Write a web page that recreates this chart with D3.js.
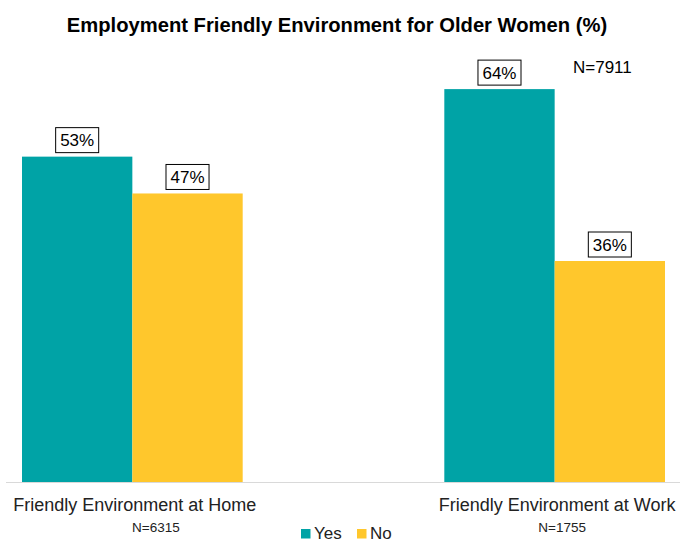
<!DOCTYPE html>
<html>
<head>
<meta charset="utf-8">
<script src="https://cdn.jsdelivr.net/npm/d3@7"></script>
<style>
  html, body { margin: 0; padding: 0; background: #fff; }
  svg { display: block; font-family: "Liberation Sans", Arial, sans-serif; }
</style>
</head>
<body>
<svg id="chart" width="680" height="542"></svg>
<script>
// Chart data
const categories = ["Friendly Environment at Home", "Friendly Environment at Work"];
const categoryN = ["N=6315", "N=1755"];
const seriesNames = ["Yes", "No"];
const yesValues = [53, 64];
const noValues = [47, 36];
const totalN = "N=7911";
const title = "Employment Friendly Environment for Older Women (%)";

const colors = { Yes: "#00A3A6", No: "#FFC72C" };

const svg = d3.select("#chart");
const W = 680, H = 542;
const baseY = 482, topY = 40;

const x = d3.scaleBand().domain(categories).range([22, 665])
  .paddingInner(201 / 421).paddingOuter(0);
const xInner = d3.scaleBand().domain(seriesNames).range([0, x.bandwidth()]).padding(0);
const y = d3.scaleLinear().domain([0, 72]).range([baseY, topY]);

const rows = categories.map((c, i) => ({
  category: c,
  values: [
    { series: "Yes", value: yesValues[i] },
    { series: "No", value: noValues[i] }
  ]
}));

// Title
svg.append("text")
  .attr("x", 337).attr("y", 32)
  .attr("text-anchor", "middle")
  .attr("font-size", 20.2).attr("font-weight", "bold")
  .attr("fill", "#000")
  .text(title);

// Bars
const groups = svg.selectAll("g.cat").data(rows).join("g")
  .attr("class", "cat")
  .attr("transform", d => `translate(${x(d.category)},0)`);

groups.selectAll("rect.bar").data(d => d.values).join("rect")
  .attr("class", "bar")
  .attr("x", d => xInner(d.series))
  .attr("y", d => y(d.value))
  .attr("width", xInner.bandwidth())
  .attr("height", d => y(0) - y(d.value))
  .attr("fill", d => colors[d.series]);

// Value labels in boxes
groups.selectAll("g.lbl").data(d => d.values).join("g")
  .attr("class", "lbl")
  .each(function(d) {
    const g = d3.select(this);
    const cx = xInner(d.series) + xInner.bandwidth() / 2;
    const bottom = y(d.value) - 4;
    const h = 25;
    const rect = g.append("rect");
    const t = g.append("text")
      .attr("x", cx).attr("y", bottom - 6.5)
      .attr("text-anchor", "middle")
      .attr("font-size", 17).attr("fill", "#000")
      .text(d.value + "%");
    const w = t.node().getComputedTextLength() + 9;
    rect.attr("x", cx - w / 2).attr("y", bottom - h)
      .attr("width", w).attr("height", h)
      .attr("fill", "#fff").attr("stroke", "#000").attr("stroke-width", 1);
  });

// Baseline axis
svg.append("line")
  .attr("x1", 6).attr("x2", 680)
  .attr("y1", baseY + 0.5).attr("y2", baseY + 0.5)
  .attr("stroke", "#D9D9D9").attr("stroke-width", 1);

// Category labels
svg.selectAll("text.cat").data(categories).join("text")
  .attr("class", "cat")
  .attr("x", d => x(d) + x.bandwidth() / 2 + 2.5)
  .attr("y", 511)
  .attr("text-anchor", "middle")
  .attr("font-size", 18).attr("fill", "#222")
  .text(d => d);

// Per-category sample sizes
const nOffsets = [23.5, 7.5];
svg.selectAll("text.n").data(categoryN).join("text")
  .attr("class", "n")
  .attr("x", (d, i) => x(categories[i]) + x.bandwidth() / 2 + nOffsets[i])
  .attr("y", 532)
  .attr("text-anchor", "middle")
  .attr("font-size", 13.5).attr("fill", "#222")
  .text(d => d);

// Overall sample size
svg.append("text")
  .attr("x", 573).attr("y", 73)
  .attr("font-size", 17).attr("fill", "#000")
  .text(totalN);

// Legend
const legend = svg.append("g").attr("transform", "translate(301,529)");
const legendX = [0, 56];
seriesNames.forEach((s, i) => {
  const g = legend.append("g").attr("transform", `translate(${legendX[i]},0)`);
  g.append("rect").attr("x", 0).attr("y", 0).attr("width", 9.5).attr("height", 9.5)
    .attr("fill", colors[s]);
  g.append("text").attr("x", 13).attr("y", 9.5)
    .attr("font-size", 17).attr("fill", "#222").text(s);
});
</script>
</body>
</html>
